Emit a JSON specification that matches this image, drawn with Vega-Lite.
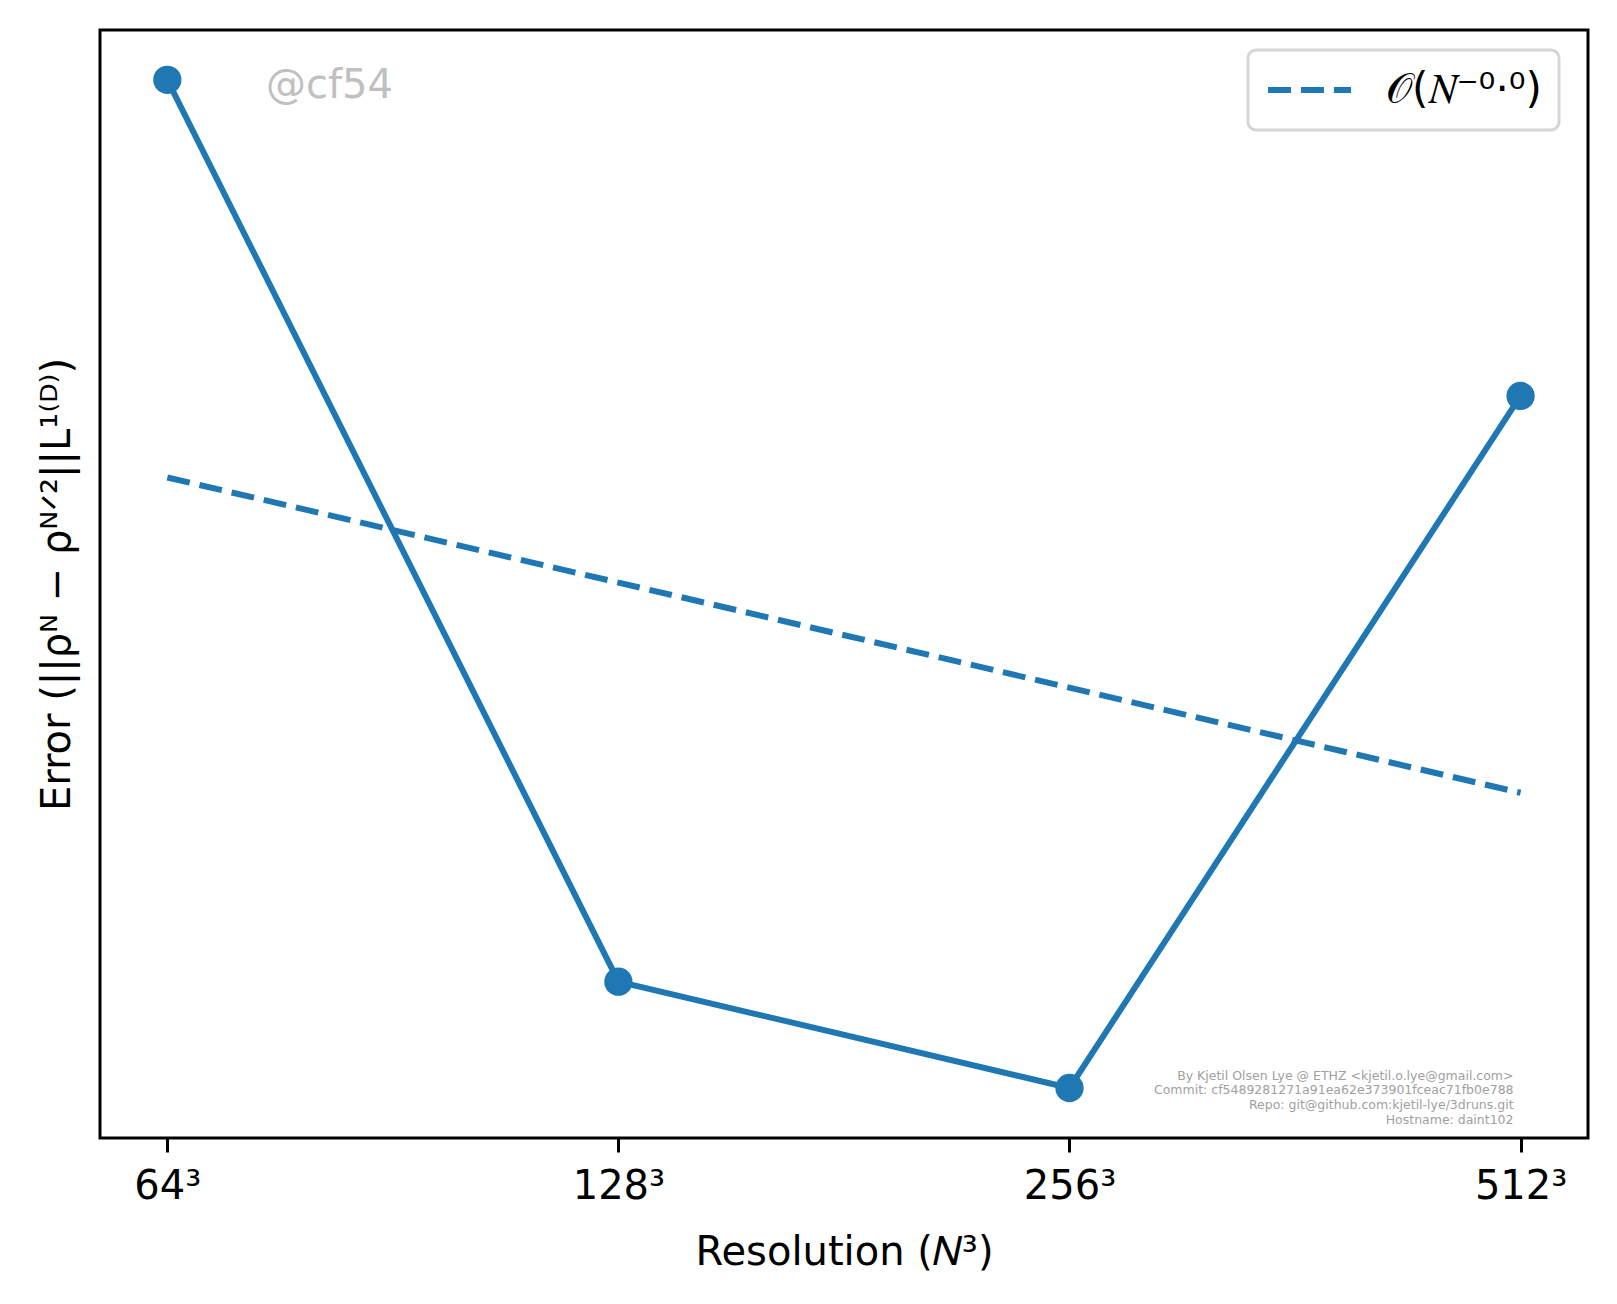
{
  "$schema": "https://vega.github.io/schema/vega-lite/v6.json",
  "width": 1488,
  "height": 1108,
  "autosize": {"type": "none"},
  "padding": {"left": 100, "top": 30, "right": 29, "bottom": 166},
  "background": "white",
  "config": {
    "view": {"stroke": "black", "strokeWidth": 3},
    "font": "DejaVu Sans",
    "legend": {"strokeWidth": 3}
  },
  "datasets": {
    "err": [
      {"N": 64, "error": 0.0130317},
      {"N": 128, "error": 0.0103989},
      {"N": 256, "error": 0.0101259},
      {"N": 512, "error": 0.0120404}
    ],
    "fit": [
      {"N": 64, "error": 0.0117973, "series": "𝒪(𝑁⁻⁰·⁰)"},
      {"N": 512, "error": 0.0109023, "series": "𝒪(𝑁⁻⁰·⁰)"}
    ],
    "mark": [
      {"N": 74.48, "error": 0.0130121, "label": "@cf54"}
    ],
    "credit": [
      {"N": 506.5, "error": 0.0101576, "label": "By Kjetil Olsen Lye @ ETHZ <kjetil.o.lye@gmail.com>"},
      {"N": 506.5, "error": 0.0101196, "label": "Commit: cf5489281271a91ea62e373901fceac71fb0e788"},
      {"N": 506.5, "error": 0.0100817, "label": "Repo: git@github.com:kjetil-lye/3druns.git"},
      {"N": 506.5, "error": 0.0100439, "label": "Hostname: daint102"}
    ]
  },
  "encoding": {
    "x": {
      "field": "N", "type": "quantitative",
      "scale": {"type": "log", "base": 2, "domain": [57.71, 567.9], "nice": false, "zero": false},
      "axis": {
        "values": [64, 128, 256, 512],
        "labelExpr": "datum.value + '³'",
        "title": "Resolution (𝑁³)",
        "grid": false, "domain": false,
        "tickColor": "black", "tickSize": 14, "tickWidth": 3,
        "labelFontSize": 40, "labelColor": "black", "labelPadding": 14,
        "titleFontSize": 40, "titleFontWeight": "normal", "titleColor": "black", "titlePadding": 26
      }
    },
    "y": {
      "field": "error", "type": "quantitative",
      "scale": {"type": "log", "domain": [0.01, 0.0131951], "nice": false, "zero": false},
      "axis": {
        "title": "Error (||ρᴺ − ρᴺᐟ²||L¹⁽ᴰ⁾)",
        "grid": false, "domain": false, "ticks": false, "labels": false,
        "titleFontSize": 40, "titleFontWeight": "normal", "titleColor": "black", "titlePadding": 23
      }
    }
  },
  "layer": [
    {
      "data": {"name": "err"},
      "mark": {"type": "line", "color": "#1f77b4", "strokeWidth": 6, "point": {"filled": true, "size": 800, "color": "#1f77b4", "opacity": 1}}
    },
    {
      "data": {"name": "fit"},
      "mark": {"type": "line", "color": "#1f77b4", "strokeWidth": 6},
      "encoding": {
        "strokeDash": {
          "field": "series", "type": "nominal",
          "scale": {"range": [[23, 10]]},
          "legend": {
            "title": null,
            "orient": "none", "legendX": 1148, "legendY": 20,
            "symbolType": "stroke", "symbolStrokeColor": "#1f77b4", "symbolStrokeWidth": 6,
            "symbolSize": 6889, "symbolDash": [23, 10],
            "labelFontSize": 42, "labelColor": "black", "labelOffset": 32,
            "clipHeight": 46,
            "padding": 17, "strokeColor": "#d6d6d6", "cornerRadius": 8,
            "fillColor": "white"
          }
        }
      }
    },
    {
      "data": {"name": "mark"},
      "mark": {"type": "text", "align": "left", "baseline": "middle", "fontSize": 40, "color": "#c0c0c0"},
      "encoding": {"text": {"field": "label"}}
    },
    {
      "data": {"name": "credit"},
      "mark": {"type": "text", "align": "right", "baseline": "middle", "fontSize": 12.5, "color": "#a0a0a0"},
      "encoding": {"text": {"field": "label"}}
    }
  ]
}
